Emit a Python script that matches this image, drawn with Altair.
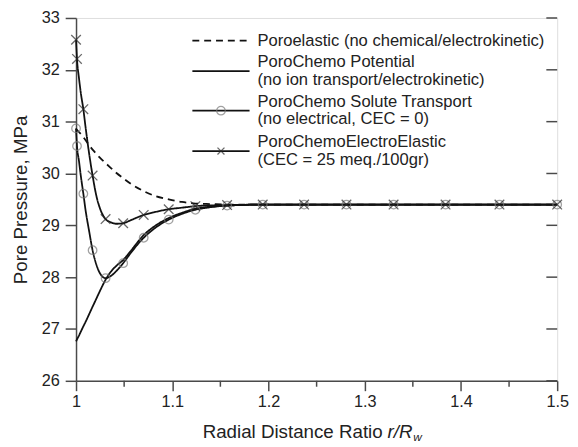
import altair as alt
import pandas as pd

# ---- data ----
r_curve = [1.0, 1.001, 1.003, 1.005, 1.0076, 1.01, 1.0135, 1.0172, 1.021, 1.025,
           1.0307, 1.036, 1.042, 1.049, 1.057, 1.0703, 1.083, 1.0963, 1.11, 1.124,
           1.14, 1.157, 1.194, 1.237, 1.281, 1.33, 1.384, 1.44, 1.5]

p_poroelastic = [30.86, 30.84, 30.80, 30.76, 30.70, 30.64, 30.55, 30.46, 30.38, 30.30,
                 30.20, 30.11, 30.01, 29.91, 29.80, 29.66, 29.56, 29.50, 29.45, 29.42,
                 29.41, 29.40, 29.40, 29.40, 29.40, 29.40, 29.40, 29.40, 29.40]
p_potential = [26.76, 26.80, 26.87, 26.95, 27.05, 27.14, 27.28, 27.43, 27.58, 27.74,
               27.95, 28.10, 28.22, 28.33, 28.51, 28.81, 29.00, 29.14, 29.24, 29.32,
               29.36, 29.38, 29.40, 29.40, 29.40, 29.40, 29.40, 29.40, 29.40]
p_solute = [30.87, 30.53, 30.25, 29.95, 29.61, 29.28, 28.90, 28.52, 28.25, 28.07,
            27.98, 28.02, 28.12, 28.27, 28.47, 28.76, 28.96, 29.11, 29.22, 29.30,
            29.35, 29.38, 29.40, 29.40, 29.40, 29.40, 29.40, 29.40, 29.40]
p_electro = [32.58, 32.21, 31.85, 31.55, 31.24, 30.88, 30.40, 29.96, 29.58, 29.32,
             29.12, 29.06, 29.03, 29.04, 29.10, 29.20, 29.26, 29.31, 29.34, 29.37,
             29.385, 29.39, 29.40, 29.40, 29.40, 29.40, 29.40, 29.40, 29.40]

r_marker = [1.0, 1.001, 1.0076, 1.0172, 1.0307, 1.049, 1.0703, 1.0963, 1.124, 1.157,
            1.194, 1.237, 1.281, 1.33, 1.384, 1.44, 1.5]
m_solute = [30.87, 30.53, 29.61, 28.52, 27.98, 28.27, 28.76, 29.11, 29.30, 29.38,
            29.40, 29.40, 29.40, 29.40, 29.40, 29.40, 29.40]
m_electro = [32.58, 32.21, 31.24, 29.96, 29.12, 29.04, 29.20, 29.31, 29.37, 29.39,
             29.40, 29.40, 29.40, 29.40, 29.40, 29.40, 29.40]

series_names = ["Poroelastic", "PoroChemo Potential", "PoroChemo Solute Transport",
                "PoroChemoElectroElastic"]

x_ticks = [1.0, 1.1, 1.2, 1.3, 1.4, 1.5]
x_minor = [1.05, 1.15, 1.25, 1.35, 1.45]
y_ticks = [26, 27, 28, 29, 30, 31, 32, 33]

legend_lines = ["Poroelastic (no chemical/electrokinetic)",
                "PoroChemo Potential", "(no ion transport/electrokinetic)",
                "PoroChemo Solute Transport", "(no electrical, CEC = 0)",
                "PoroChemoElectroElastic", "(CEC = 25 meq./100gr)"]

# ---- layout constants ----
W, H = 488, 368
FONT = "Liberation Sans"
AX = "#4a4a4a"
INK = "#111111"
TXT = "#222222"

curve_df = pd.concat([
    pd.DataFrame({"r": r_curve, "p": vals, "series": name})
    for name, vals in zip(series_names, [p_poroelastic, p_potential, p_solute, p_electro])
])
sol_df = pd.DataFrame({"r": r_marker, "p": m_solute})
ele_df = pd.DataFrame({"r": r_marker, "p": m_electro})

xs = alt.Scale(domain=[1.0, 1.5], nice=False, zero=False)
ys = alt.Scale(domain=[26, 33], nice=False, zero=False)

x_enc = alt.X("r:Q", scale=xs, axis=alt.Axis(
    values=x_ticks, format="~g", tickSize=10, labelPadding=3, title=None, grid=False,
    domainColor=AX, domainWidth=1.5, tickColor=AX, tickWidth=1.5,
    labelFont=FONT, labelFontSize=16.5, labelColor=TXT, labelFlush=False))
y_enc = alt.Y("p:Q", scale=ys, axis=alt.Axis(
    values=y_ticks, format="d", tickSize=11, labelPadding=6, title="Pore Pressure, MPa",
    titlePadding=11, grid=False, domainColor=AX, domainWidth=1.5, tickColor=AX,
    tickWidth=1.5, labelFont=FONT, labelFontSize=16.5, labelColor=TXT,
    titleFont=FONT, titleFontSize=19, titleFontWeight="normal", titleColor=TXT))

lines = alt.Chart(curve_df).mark_line(interpolate="monotone", strokeWidth=1.8, color=INK).encode(
    x=x_enc, y=y_enc, detail="series:N",
    strokeDash=alt.StrokeDash("series:N", legend=None, scale=alt.Scale(
        domain=series_names, range=[[7, 5], [1, 0], [1, 0], [1, 0]])))

circles = alt.Chart(sol_df).mark_point(shape="circle", size=75, filled=False,
                                       stroke="#7a7a7a", strokeWidth=1.3).encode(
    x=alt.X("r:Q", scale=xs), y=alt.Y("p:Q", scale=ys))
crosses = alt.Chart(ele_df).mark_point(shape="M-1,-1L1,1M-1,1L1,-1", size=95, filled=False,
                                       stroke="#2a2a2a", strokeWidth=1.3).encode(
    x=alt.X("r:Q", scale=xs), y=alt.Y("p:Q", scale=ys))

minor = alt.Chart(pd.DataFrame({"r": x_minor})).mark_rule(color=AX, strokeWidth=1.5).encode(
    x=alt.X("r:Q", scale=xs), y=alt.value(H), y2=alt.value(H + 6))
right_ticks = alt.Chart(pd.DataFrame({"p": y_ticks})).mark_rule(color=AX, strokeWidth=1.5).encode(
    y=alt.Y("p:Q", scale=ys), x=alt.value(W - 11), x2=alt.value(W))

# ---- legend (drawn manually) ----
one = pd.DataFrame({"a": [0]})
LX0, LX1, LXM, TX = 118, 176, 147, 184
leg_y_sym = [23, 54, 94, 135]
leg_y_txt = [23, 45.2, 62.8, 85.2, 102.8, 126.2, 143.8]
leg_layers = []
for i, dash in enumerate([[7, 5], [1, 0], [1, 0], [1, 0]]):
    leg_layers.append(alt.Chart(one).mark_rule(color=INK, strokeWidth=1.8, strokeDash=dash).encode(
        x=alt.value(LX0), x2=alt.value(LX1), y=alt.value(leg_y_sym[i])))
leg_layers.append(alt.Chart(one).mark_point(shape="circle", size=75, filled=False,
                                            stroke="#7a7a7a", strokeWidth=1.3).encode(
    x=alt.value(LXM), y=alt.value(leg_y_sym[2])))
leg_layers.append(alt.Chart(one).mark_point(shape="M-1,-1L1,1M-1,1L1,-1", size=50, filled=False,
                                            stroke="#2a2a2a", strokeWidth=1.3).encode(
    x=alt.value(LXM), y=alt.value(leg_y_sym[3])))
for txt, yy in zip(legend_lines, leg_y_txt):
    leg_layers.append(alt.Chart(one).mark_text(align="left", baseline="middle", font=FONT,
                                               fontSize=16.8, color=TXT).encode(
        x=alt.value(TX), y=alt.value(yy), text=alt.value(txt)))

# ---- x axis title with italic r/R_w ----
TY = H + 58
TXR = 311
title_parts = [
    alt.Chart(one).mark_text(align="right", baseline="alphabetic", font=FONT, fontSize=19,
                             color=TXT).encode(
        x=alt.value(TXR), y=alt.value(TY), text=alt.value("Radial Distance Ratio")),
    alt.Chart(one).mark_text(align="left", baseline="alphabetic", font=FONT, fontSize=19,
                             fontStyle="italic", color=TXT).encode(
        x=alt.value(TXR + 5), y=alt.value(TY), text=alt.value("r/R")),
    alt.Chart(one).mark_text(align="left", baseline="alphabetic", font=FONT, fontSize=12,
                             fontStyle="italic", color=TXT).encode(
        x=alt.value(TXR + 31), y=alt.value(TY + 3), text=alt.value("w")),
]

chart = alt.layer(lines, circles, crosses, minor, right_ticks, *leg_layers, *title_parts).properties(
    width=W, height=H,
    autosize=alt.AutoSizeParams(type="none"),
    padding={"left": 69, "top": 7, "right": 13, "bottom": 64},
).configure_view(stroke=AX, strokeWidth=1.5).configure(background="white")

chart.save("out.html", embed_options={"renderer": "svg", "actions": False})
